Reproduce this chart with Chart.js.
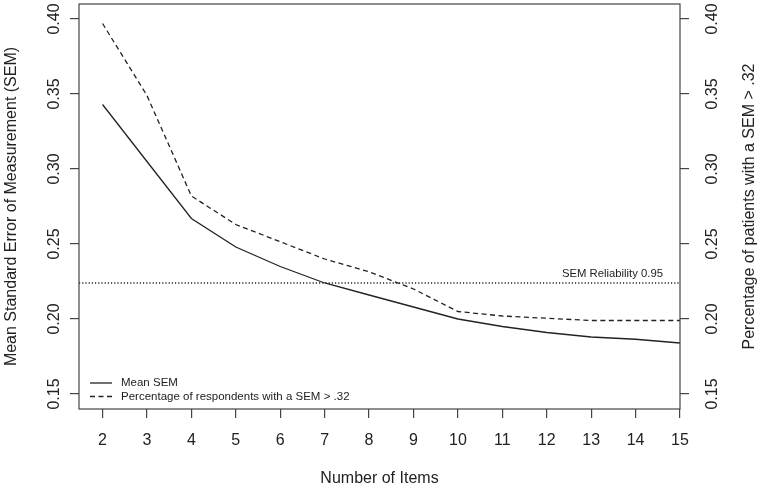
<!DOCTYPE html>
<html>
<head>
<meta charset="utf-8">
<script src="https://cdn.jsdelivr.net/npm/chart.js@4.4.1/dist/chart.umd.min.js"></script>
<style>
  html, body { margin: 0; padding: 0; background: #fff; }
  #wrap { width: 762px; height: 488px; }
</style>
</head>
<body>
<div id="wrap"><canvas id="chartSem" width="762" height="488"></canvas></div>
<script>
// values
const items = [2, 3, 4, 5, 6, 7, 8, 9, 10, 11, 12, 13, 14, 15];
const meanSem = [0.343, 0.305, 0.267, 0.248, 0.235, 0.224, 0.216, 0.208, 0.200, 0.195, 0.191, 0.188, 0.1865, 0.184];
const pctOver = [0.397, 0.349, 0.282, 0.263, 0.2515, 0.240, 0.2315, 0.220, 0.205, 0.202, 0.2005, 0.199, 0.199, 0.199];
const reliability = 0.224;
const yTickValues = [0.15, 0.20, 0.25, 0.30, 0.35, 0.40];
const xRange = [1.47, 15];
const yRange = [0.14, 0.41];

const FONT = '"Liberation Sans", Arial, sans-serif';
const INK = '#222';
const LEFT_TITLE = 'Mean Standard Error of Measurement (SEM)';
const RIGHT_TITLE = 'Percentage of patients with a SEM > .32';

function pts(ys) {
  return items.map((x, i) => ({ x: x, y: ys[i] }));
}

const extras = {
  id: 'extras',
  afterDatasetsDraw(chart) {
    const { ctx, chartArea: a, scales } = chart;
    ctx.save();
    // box round the plot
    ctx.strokeStyle = '#444';
    ctx.lineWidth = 1.2;
    ctx.strokeRect(a.left, a.top, a.right - a.left, a.bottom - a.top);

    // label of the reliability line
    ctx.fillStyle = INK;
    ctx.font = '11.3px ' + FONT;
    ctx.textAlign = 'right';
    ctx.textBaseline = 'alphabetic';
    ctx.fillText('SEM Reliability 0.95', a.right - 17, scales.y.getPixelForValue(reliability) - 6);

    // legend, bottom left inside the box
    ctx.font = '11.5px ' + FONT;
    const rows = [a.bottom - 26, a.bottom - 12.5];
    chart.data.datasets.slice(0, 2).forEach((ds, i) => {
      ctx.beginPath();
      ctx.setLineDash(ds.borderDash || []);
      ctx.lineWidth = ds.borderWidth;
      ctx.strokeStyle = ds.borderColor;
      ctx.moveTo(a.left + 11, rows[i]);
      ctx.lineTo(a.left + 33, rows[i]);
      ctx.stroke();
      ctx.setLineDash([]);
      ctx.textAlign = 'left';
      ctx.textBaseline = 'middle';
      ctx.fillText(ds.label, a.left + 42, rows[i]);
    });

    // right axis title, reading upward like the left one
    ctx.translate(750, (a.top + a.bottom) / 2);
    ctx.rotate(-Math.PI / 2);
    ctx.font = '16px ' + FONT;
    ctx.textAlign = 'center';
    ctx.textBaseline = 'middle';
    ctx.fillText(RIGHT_TITLE, 0, 0);
    ctx.restore();
  }
};

const tickGrid = {
  display: true,
  drawOnChartArea: false,
  drawTicks: true,
  tickLength: 9,
  color: '#444',
  lineWidth: 1.2
};

function yAxis(position, width, pad) {
  return {
    type: 'linear',
    position: position,
    min: yRange[0],
    max: yRange[1],
    border: { display: false },
    grid: tickGrid,
    afterBuildTicks: s => { s.ticks = yTickValues.map(v => ({ value: v })); },
    afterFit: s => { s.width = width; s.paddingTop = 0; s.paddingBottom = 0; },
    ticks: {
      minRotation: 90,
      maxRotation: 90,
      crossAlign: 'center',
      padding: pad,
      color: INK,
      font: { family: FONT, size: 16 },
      callback: v => v.toFixed(2)
    }
  };
}

const ctx = document.getElementById('chartSem');
new Chart(ctx, {
  type: 'line',
  data: {
    datasets: [
      {
        label: 'Mean SEM',
        data: pts(meanSem),
        yAxisID: 'y',
        borderColor: INK,
        borderWidth: 1.3,
        pointRadius: 0,
        tension: 0
      },
      {
        label: 'Percentage of respondents with a SEM > .32',
        data: pts(pctOver),
        yAxisID: 'y1',
        borderColor: INK,
        borderWidth: 1.3,
        borderDash: [5, 3.5],
        pointRadius: 0,
        tension: 0
      },
      {
        label: 'SEM Reliability 0.95',
        data: [{ x: xRange[0], y: reliability }, { x: xRange[1], y: reliability }],
        yAxisID: 'y',
        borderColor: INK,
        borderWidth: 1.4,
        borderDash: [1.2, 2],
        pointRadius: 0
      }
    ]
  },
  options: {
    responsive: false,
    animation: false,
    layout: { padding: { top: 4, left: 0, right: 0, bottom: 0 } },
    plugins: {
      legend: { display: false },
      tooltip: { enabled: false }
    },
    scales: {
      x: {
        type: 'linear',
        min: xRange[0],
        max: xRange[1],
        border: { display: false },
        grid: tickGrid,
        afterBuildTicks: s => { s.ticks = items.map(v => ({ value: v })); },
        afterFit: s => { s.height = 79; s.paddingLeft = 0; s.paddingRight = 0; },
        ticks: {
          padding: 13,
          maxRotation: 0,
          color: INK,
          font: { family: FONT, size: 16 }
        },
        title: {
          display: true,
          text: 'Number of Items',
          color: INK,
          font: { family: FONT, size: 16 },
          padding: { top: 4, bottom: 0 }
        }
      },
      y: Object.assign(yAxis('left', 79, 0), {
        title: {
          display: true,
          text: LEFT_TITLE,
          color: INK,
          font: { family: FONT, size: 16 },
          padding: { top: 2, bottom: 2 }
        }
      }),
      y1: yAxis('right', 82, 8)
    }
  },
  plugins: [extras]
});
</script>
</body>
</html>
